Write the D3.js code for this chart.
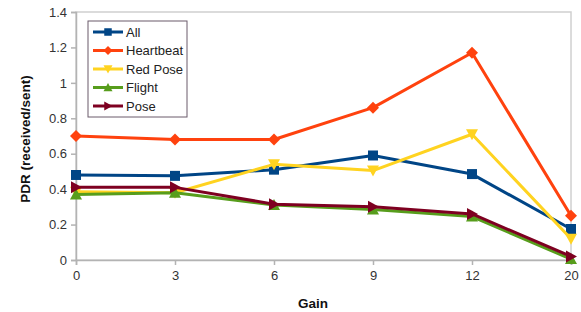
<!DOCTYPE html>
<html><head><meta charset="utf-8">
<script src="https://cdn.jsdelivr.net/npm/d3@7"></script>
<style>body{margin:0;background:#fff}svg{display:block;font-family:"Liberation Sans",Arial,sans-serif}</style>
</head><body><svg id="c" width="581" height="312"></svg>
<script>
const categories = ["0","3","6","9","12","20"];
const yTicks = [0,0.2,0.4,0.6,0.8,1,1.2,1.4];
const seriesNames = ["All","Heartbeat","Red Pose","Flight","Pose"];
const allVals = [0.48,0.475,0.51,0.59,0.485,0.175];
const heartbeatVals = [0.70,0.68,0.68,0.86,1.17,0.25];
const redPoseVals = [0.385,0.38,0.54,0.505,0.71,0.12];
const flightVals = [0.37,0.38,0.31,0.285,0.245,0.005];
const poseVals = [0.41,0.41,0.315,0.30,0.26,0.02];
const colors = ["#004586","#ff420e","#ffd320","#579d1c","#7e0021"];
const symbols = ["square","diamond","down","up","right"];

const svg = d3.select("#c");
const L=76,R=571,T=12,B=260;
const x = d3.scalePoint().domain(categories).range([L,R]).padding(0);
const y = d3.scaleLinear().domain([0,1.4]).range([B,T]);

svg.append("rect").attr("x",L).attr("y",T).attr("width",R-L).attr("height",B-T)
  .attr("fill","none").attr("stroke","#d0d0d0").attr("stroke-width",1.5);

const ya = svg.append("g").attr("transform",`translate(${L},0)`)
  .call(d3.axisLeft(y).tickValues(yTicks).tickFormat(d=>d3.format("")(d)).tickSize(5).tickPadding(4));
const xa = svg.append("g").attr("transform",`translate(0,${B})`)
  .call(d3.axisBottom(x).tickSize(5).tickPadding(6));
[ya,xa].forEach(g=>{
  g.selectAll("path,line").attr("stroke","#b3b3b3").attr("stroke-width",1.5);
  g.selectAll("text").attr("fill","#333").style("font-size","13px").style("font-family","Liberation Sans, Arial, sans-serif");
});

svg.append("text").attr("transform","translate(30,139) rotate(-90)").attr("text-anchor","middle")
  .style("font-size","13.5px").style("font-weight","bold").attr("fill","#111").text("PDR (received/sent)");
svg.append("text").attr("x",313).attr("y",308).attr("text-anchor","middle")
  .style("font-size","13.5px").style("font-weight","bold").attr("fill","#111").text("Gain");

function marker(g,type,cx,cy,color){
  let p;
  if(type==="square") p=`M${cx-5},${cy-5}h10v10h-10z`;
  else if(type==="diamond") p=`M${cx},${cy-6}L${cx+6},${cy}L${cx},${cy+6}L${cx-6},${cy}z`;
  else if(type==="down") p=`M${cx-6},${cy-5}L${cx+6},${cy-5}L${cx},${cy+6}z`;
  else if(type==="up") p=`M${cx-6},${cy+5}L${cx+6},${cy+5}L${cx},${cy-6}z`;
  else p=`M${cx-5},${cy-6}L${cx+6},${cy}L${cx-5},${cy+6}z`;
  g.append("path").attr("d",p).attr("fill",color);
}

const data = [allVals,heartbeatVals,redPoseVals,flightVals,poseVals];
const line = d3.line().x((d,i)=>x(categories[i])).y(d=>y(d));
data.forEach((vals,k)=>{
  const g = svg.append("g");
  g.append("path").datum(vals).attr("d",line).attr("fill","none").attr("stroke",colors[k]).attr("stroke-width",3).attr("stroke-linejoin","round");
  vals.forEach((v,i)=>marker(g,symbols[k],x(categories[i]),y(v),colors[k]));
});

const lg = svg.append("g");
lg.append("rect").attr("x",88).attr("y",21).attr("width",99).attr("height",96).attr("fill","#fff").attr("stroke","#6b5b6b").attr("stroke-width",1);
seriesNames.forEach((n,k)=>{
  const yy = 32 + k*18.5;
  lg.append("line").attr("x1",93).attr("x2",123).attr("y1",yy).attr("y2",yy).attr("stroke",colors[k]).attr("stroke-width",3);
  const mg = lg.append("g").attr("transform",`translate(108,${yy}) scale(0.75) translate(-108,${-yy})`);
  marker(mg,symbols[k],108,yy,colors[k]);
  lg.append("text").attr("x",126).attr("y",yy+4.5).style("font-size","13px").attr("fill","#222").text(n);
});
</script></body></html>
